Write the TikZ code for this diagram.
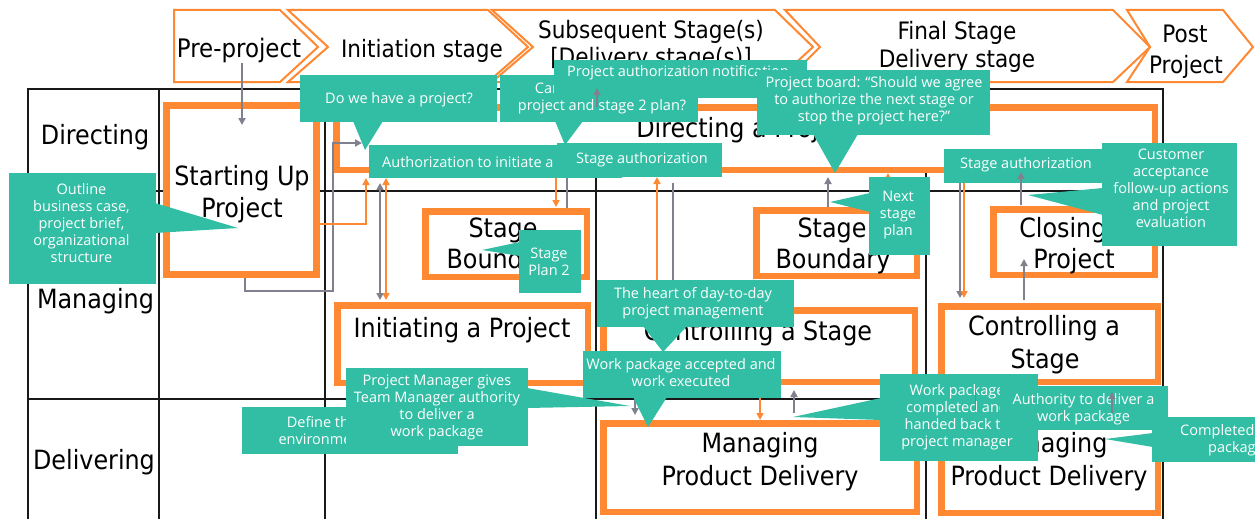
\documentclass[tikz,border=0pt]{standalone}
\usepackage{fontspec}
\setmainfont{Open Sans}
\newfontfamily\labfont{DejaVu Sans Condensed}
\usetikzlibrary{arrows.meta}
\definecolor{tl}{RGB}{50,190,164}
\definecolor{og}{RGB}{255,136,51}
\definecolor{gy}{RGB}{128,128,142}
\definecolor{gl}{RGB}{25,25,25}
\tikzset{
  lab/.style={font=\labfont\fontsize{26.5}{29}\selectfont, inner sep=0pt, anchor=base},
  hlab/.style={font=\labfont\fontsize{24}{27}\selectfont, inner sep=0pt, anchor=base},
  ct/.style={font=\fontsize{14.5}{17}\selectfont, text=white, align=center, inner sep=0pt},
  cbox/.style={fill=tl, draw=none, inner sep=0pt, outer sep=0pt},
  proc/.style={draw=og, line width=6.5pt, fill=white, inner sep=0pt},
  chev/.style={draw=og, line width=2pt, line join=miter},
  gridln/.style={draw=gl, line width=1.4pt},
  ga/.style={draw=gy, line width=2pt, -{Triangle[length=7pt,width=7pt]}},
  gab/.style={draw=gy, line width=2pt, {Triangle[length=7pt,width=7pt]}-{Triangle[length=7pt,width=7pt]}},
  gl0/.style={draw=gy, line width=2pt},
  oa/.style={draw=og, line width=1.5pt, -{Triangle[length=7pt,width=7pt]}},
  oab/.style={draw=og, line width=1.5pt, {Triangle[length=7pt,width=7pt]}-{Triangle[length=7pt,width=7pt]}},
}
\begin{document}
\begin{tikzpicture}[x=1pt,y=-1pt]
\useasboundingbox (0,0) rectangle (1255,519);
\clip (0,0) rectangle (1255,519);
\fill[white] (0,0) rectangle (1255,519);
% ---- header chevrons
\draw[chev] (174,10) -- (280,10) -- (318,47) -- (280,82) -- (174,82) -- cycle;
\draw[chev] (288,10) -- (488,10) -- (528,47) -- (488,82) -- (288,82) -- (328,47) -- cycle;
\draw[chev] (492,10) -- (775,10) -- (813,47) -- (775,82) -- (492,82) -- (533,47) -- cycle;
\draw[chev] (785,10) -- (1113,10) -- (1150,47) -- (1113,82) -- (785,82) -- (820,47) -- cycle;
\draw[chev] (1127,10) -- (1223,10) -- (1253,47) -- (1223,82) -- (1127,82) -- (1150,47) -- cycle;
\node[lab, font=\labfont\fontsize{25.5}{28}\selectfont] (hpre) at (239,57) {Pre-project};
\node[hlab] (hini) at (422,57) {Initiation stage};
\node[hlab] (hsub1) at (651,38) {Subsequent Stage(s)};
\node[hlab] (hsub2) at (651,66) {[Delivery stage(s)]};
\node[hlab] (hfin1) at (957,40) {Final Stage};
\node[hlab] (hfin2) at (957,67) {Delivery stage};
\node[hlab] (hpost1) at (1185,43) {Post};
\node[hlab] (hpost2) at (1186,74) {Project};
% ---- grid
\draw[gridln] (28,540) -- (28,89) -- (1163,89) -- (1163,540);
\foreach \gx in {159,325,596,926} \draw[gridln] (\gx,89) -- (\gx,540);
\draw[gridln] (28,191) -- (1163,191);
\draw[gridln] (28,399) -- (1163,399);
\node[lab] (ldir) at (95,144) {Directing};
\node[lab] (lman) at (95.5,308) {Managing};
\node[lab] (ldel) at (94,469) {Delivering};
% ---- process boxes
\node[proc, line width=7pt, minimum width=150pt, minimum height=169pt] (su) at (241.5,190) {};
\node[lab] (sut1) at (242,185) {Starting Up};
\node[lab] (sut2) at (242,217) {Project};
\node[proc, minimum width=818.5pt, minimum height=62.5pt] (dap) at (745.5,138.5) {};
\node[lab] (dapt) at (746,137) {Directing a Project};
\node[proc, minimum width=161.5pt, minimum height=65.5pt] (sb1) at (506,244) {};
\node[lab] (sb1a) at (503,237) {Stage};
\node[lab] (sb1b) at (504,268) {Boundary};
\node[proc, minimum width=160.5pt, minimum height=65.5pt] (sb2) at (836.5,243) {};
\node[lab] (sb2a) at (832,237) {Stage};
\node[lab] (sb2b) at (833,268) {Boundary};
\node[proc, minimum width=161.5pt, minimum height=65.5pt] (cl) at (1074,242) {};
\node[lab] (cla) at (1074,237) {Closing a};
\node[lab] (clb) at (1074,268) {Project};
\node[proc, minimum width=250.5pt, minimum height=77.5pt] (ini) at (462.5,344) {};
\node[lab] (init) at (462,337) {Initiating a Project};
\node[proc, minimum width=311.5pt, minimum height=71.5pt] (cs1) at (759,346) {};
\node[lab] (cs1t) at (758,340) {Controlling a Stage};
\node[proc, minimum width=216.5pt, minimum height=75.5pt] (cs2) at (1049.5,344) {};
\node[lab] (cs2a) at (1044,335) {Controlling a};
\node[lab] (cs2b) at (1045,368) {Stage};
\node[proc, minimum width=313.5pt, minimum height=88.5pt] (mpd1) at (760,467.5) {};
\node[lab] (mpd1a) at (760,452) {Managing};
\node[lab] (mpd1b) at (760,485) {Product Delivery};
\node[proc, minimum width=216.5pt, minimum height=89.5pt] (mpd2) at (1049.5,468) {};
\node[lab] (mpd2a) at (1049,452) {Managing};
\node[lab] (mpd2b) at (1049,485) {Product Delivery};
% ---- connectors
\draw[ga] (242,63) -- (242,125);
\draw[ga] (245,278) -- (245,291) -- (333,291) -- (333,143) -- (362,143);
\draw[oa] (320,224) -- (366,224) -- (366,178);
\draw[gab] (380,183) -- (380,300);
\draw[oab] (386,178) -- (386,300);
\draw[oa] (556,178) -- (556,207);
\draw[gl0] (567,178) -- (567,208);
\draw[oa] (657,280) -- (657,177);
\draw[gl0] (673,183) -- (673,280);
\draw[ga] (828,207) -- (828,177);
\draw[oa] (888,207) -- (888,173);
\draw[ga] (960,183) -- (960,298);
\draw[oa] (964,183) -- (964,298);
\draw[ga] (1024,300) -- (1024,259);
\draw[ga] (635,400) -- (635,415);
\draw[oa] (760,398) -- (760,420);
\draw[ga] (794,413) -- (794,390);
% ---- callouts
\node[cbox, minimum width=216pt, minimum height=47pt] (c14) at (350,430.5) {};
\node[ct] (c14t) at (322,430.5) {Define the\\environment};
\node[cbox, minimum width=182pt, minimum height=78pt] (c15) at (437,407) {};
\fill[tl] (527,388) -- (630,406) -- (527,408) -- cycle;
\node[ct] (c15t) at (437,407) {Project Manager gives\\Team Manager authority\\to deliver a\\work package};
\node[cbox, minimum width=147pt, minimum height=111pt] (c1) at (82.5,228.5) {};
\fill[tl] (155,203) -- (238,228) -- (155,233) -- cycle;
\node[ct] (c1t) at (81.5,223.5) {Outline\\business case,\\project brief,\\organizational\\structure};
\node[cbox, minimum width=253pt, minimum height=33pt] (c3) at (495.5,161.5) {};
\node[ct, anchor=base west] (c3t) at (382,167) {Authorization to initiate a project};
\node[cbox, minimum width=197pt, minimum height=47pt] (c2) at (398.5,98.5) {};
\fill[tl] (353,121) -- (365,150) -- (383,121) -- cycle;
\node[ct, anchor=base] (c2t) at (399,103) {Do we have a project?};
\node[cbox, minimum width=165pt, minimum height=34pt] (c5) at (639.5,160) {};
\node[ct, anchor=base] (c5t) at (642,163) {Stage authorization};
\node[cbox, minimum width=198pt, minimum height=47pt] (c4) at (599,98.5) {};
\fill[tl] (555,121) -- (565,145) -- (583,121) -- cycle;
\node[ct] (c4t) at (602,98) {Can we approve the\\project and stage 2 plan?};
\node[cbox, minimum width=253pt, minimum height=38pt] (c6) at (680.5,79) {};
\node[ct, anchor=base west] (c6t) at (567,77) {Project authorization notification};
\draw[ga] (597,107) -- (597,88);
\node[cbox, minimum width=233pt, minimum height=65pt] (c7) at (873.5,102.5) {};
\fill[tl] (813,134) -- (835,173) -- (858,134) -- cycle;
\node[ct] (c7t) at (874,100.5) {Project board: “Should we agree\\to authorize the next stage or\\stop the project here?”};
\node[cbox, minimum width=62pt, minimum height=63pt] (c11) at (550,261.5) {};
\fill[tl] (520,242) -- (482,250) -- (520,256) -- cycle;
\node[ct] (c11t) at (549,262) {Stage\\Plan 2};
\node[cbox, minimum width=197pt, minimum height=47pt] (c12) at (695.5,303.5) {};
\fill[tl] (643,326) -- (663,352) -- (687,326) -- cycle;
\node[ct] (c12t) at (693,303.5) {The heart of day-to-day\\project management};
\node[cbox, minimum width=198pt, minimum height=47pt] (c13) at (682,374.5) {};
\fill[tl] (633,397) -- (648,427) -- (667,397) -- cycle;
\node[ct] (c13t) at (681,373) {Work package accepted and\\work executed};
\node[cbox, minimum width=61pt, minimum height=78pt] (c10) at (899.5,216) {};
\fill[tl] (870,193) -- (830,202) -- (870,212) -- cycle;
\node[ct] (c10t) at (898,215.5) {Next\\stage\\plan};
\node[cbox, minimum width=166pt, minimum height=34pt] (c8) at (1027,166) {};
\node[ct, anchor=base west] (c8t) at (960,168) {Stage authorization};
\draw[ga] (1021,205) -- (1021,172);
\node[cbox, minimum width=135pt, minimum height=103pt] (c9) at (1169.5,194.5) {};
\fill[tl] (1103,188) -- (1028,195) -- (1103,215) -- cycle;
\node[ct] (c9t) at (1171,188.5) {Customer\\acceptance\\follow-up actions\\and project\\evaluation};
\node[cbox, minimum width=158pt, minimum height=87pt] (c16) at (959,417.5) {};
\fill[tl] (881,398) -- (793,417) -- (881,420) -- cycle;
\node[ct] (c16t) at (957,417.5) {Work package\\completed and\\handed back to\\project manager};
\draw[draw=gy, line width=1pt] (975,390) -- (975,410);
\node[cbox, minimum width=168pt, minimum height=44pt] (c17) at (1084,408) {};
\node[ct] (c17t) at (1083.5,409.5) {Authority to deliver a\\work package};
\draw[ga] (1112,413) -- (1112,392);
\node[cbox, minimum width=128pt, minimum height=45pt] (c18) at (1216,439.5) {};
\fill[tl] (1153,433) -- (1105,439) -- (1153,447) -- cycle;
\node[ct] (c18t) at (1236,440) {Completed work\\package};
\end{tikzpicture}
\end{document}
